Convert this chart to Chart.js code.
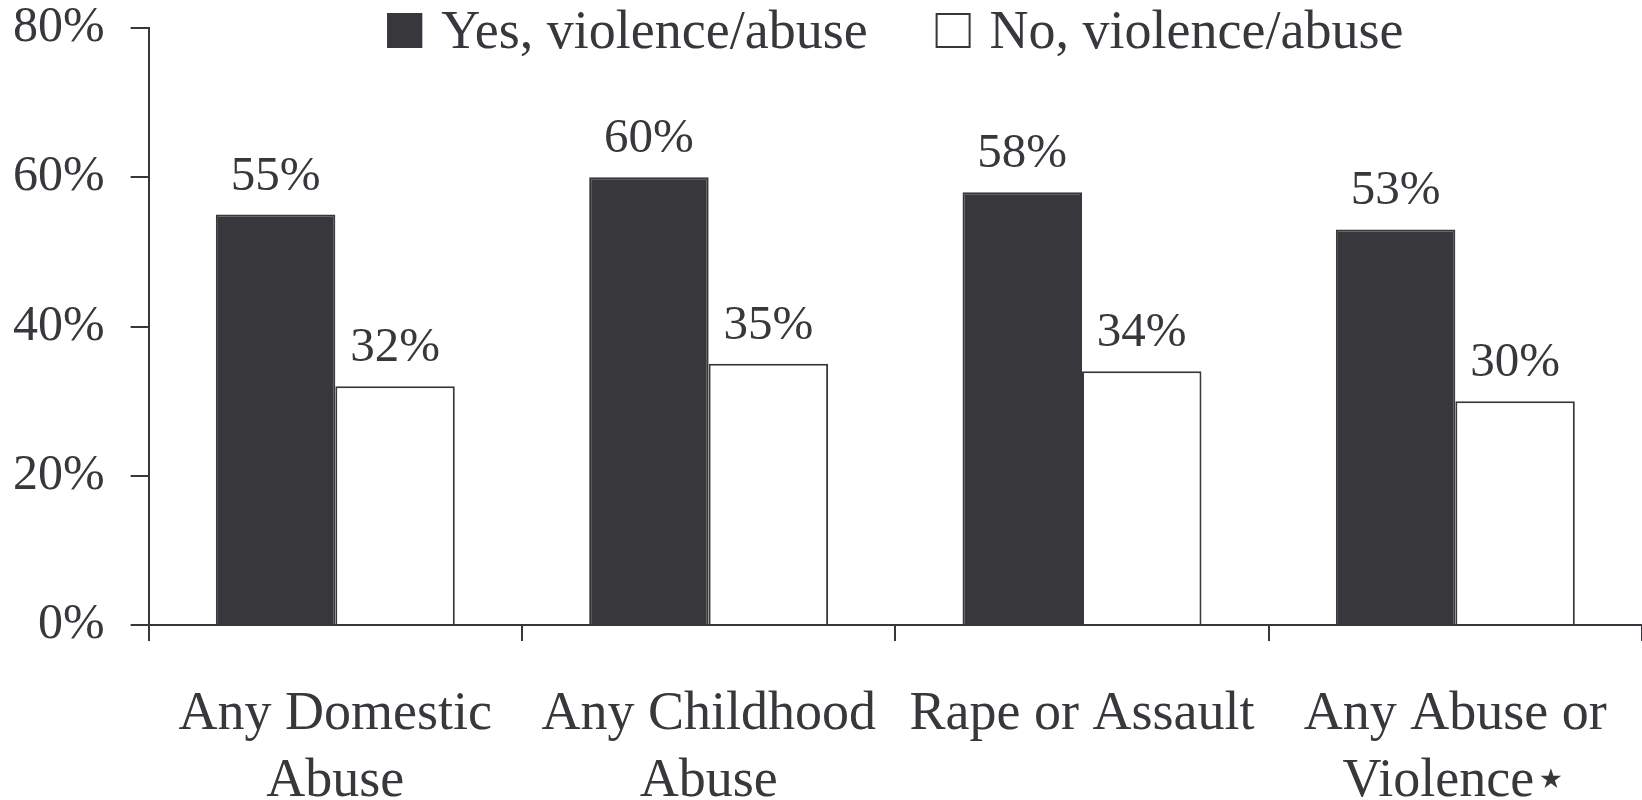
<!DOCTYPE html>
<html>
<head>
<meta charset="utf-8">
<script src="https://cdn.jsdelivr.net/npm/chart.js@4.4.1/dist/chart.umd.min.js"></script>
<style>
  html, body { margin: 0; padding: 0; background: #fff; }
  #wrap { width: 1642px; height: 800px; }
</style>
</head>
<body>
<div id="wrap"><canvas id="chart"></canvas></div>
<script>
const categories = [
  ['Any Domestic', 'Abuse'],
  ['Any Childhood', 'Abuse'],
  ['Rape or Assault'],
  ['Any Abuse or', 'Violence\u22c6']
];
const seriesNames = ['Yes, violence/abuse', 'No, violence/abuse'];
const yesValues = [55, 60, 58, 53];
const noValues = [32, 35, 34, 30];
const yTicks = [0, 20, 40, 60, 80];

const ink = '#38373c';
const serif = '"Liberation Serif", "DejaVu Serif", serif';

// value labels above each bar
const barLabels = {
  id: 'barLabels',
  afterDatasetsDraw(chart) {
    const ctx = chart.ctx;
    ctx.save();
    ctx.font = '49px ' + serif;
    ctx.fillStyle = ink;
    ctx.textAlign = 'center';
    ctx.textBaseline = 'alphabetic';
    chart.data.datasets.forEach((ds, i) => {
      chart.getDatasetMeta(i).data.forEach((bar, j) => {
        ctx.fillText(ds.data[j] + '%', bar.x, bar.y - 25);
      });
    });
    ctx.restore();
  }
};

// legend drawn over the top of the plot, like the original
const topLegend = {
  id: 'topLegend',
  afterDraw(chart) {
    const ctx = chart.ctx;
    const box = 35, gap = 19, spacing = 68;
    ctx.save();
    ctx.font = '54px ' + serif;
    const widths = chart.data.datasets.map(ds => box + gap + ctx.measureText(ds.label).width);
    const total = widths.reduce((a, b) => a + b, 0) + spacing * (widths.length - 1);
    let x = (chart.chartArea.left + chart.chartArea.right) / 2 - total / 2;
    const top = 13;
    chart.data.datasets.forEach((ds, i) => {
      ctx.fillStyle = ds.backgroundColor;
      ctx.fillRect(x, top, box, box);
      ctx.strokeStyle = ink;
      ctx.lineWidth = 2;
      ctx.strokeRect(x + 1, top + 1, box - 2, box - 2);
      ctx.fillStyle = ink;
      ctx.textBaseline = 'alphabetic';
      ctx.textAlign = 'left';
      ctx.fillText(ds.label, x + box + gap, top + 35);
      x += widths[i] + spacing;
    });
    ctx.restore();
  }
};

new Chart(document.getElementById('chart'), {
  type: 'bar',
  data: {
    labels: categories,
    datasets: [
      {
        label: seriesNames[0],
        data: yesValues,
        backgroundColor: ink,
        borderColor: ink,
        borderWidth: 2
      },
      {
        label: seriesNames[1],
        data: noValues,
        backgroundColor: '#ffffff',
        borderColor: ink,
        borderWidth: 2
      }
    ]
  },
  options: {
    responsive: true,
    maintainAspectRatio: false,
    animation: false,
    layout: { padding: { left: -13, right: 0, top: 0, bottom: 0 } },
    datasets: {
      bar: { categoryPercentage: 0.64, barPercentage: 1.0 }
    },
    plugins: {
      legend: { display: false },
      tooltip: { enabled: false }
    },
    scales: {
      x: {
        afterFit(scale) {
          scale.height = 175;
          scale.paddingLeft = 0;
          scale.paddingRight = 0;
        },
        grid: {
          display: true,
          offset: true,
          drawOnChartArea: false,
          drawTicks: true,
          tickLength: 16,
          color: ink,
          lineWidth: 2
        },
        border: { display: true, color: ink, width: 2 },
        ticks: {
          color: ink,
          padding: 40,
          maxRotation: 0,
          autoSkip: false,
          font: { family: serif, size: 54, lineHeight: 1.25 }
        }
      },
      y: {
        min: 0,
        max: 80,
        afterBuildTicks(axis) {
          axis.ticks = yTicks.map(v => ({ value: v }));
        },
        afterFit(scale) {
          scale.paddingTop = 28;
          scale.paddingBottom = 0;
        },
        grid: {
          display: true,
          drawOnChartArea: false,
          drawTicks: true,
          tickLength: 18,
          color: ink,
          lineWidth: 2
        },
        border: { display: true, color: ink, width: 2 },
        ticks: {
          color: ink,
          padding: 26,
          font: { family: serif, size: 50 },
          callback: v => v + '%'
        }
      }
    }
  },
  plugins: [barLabels, topLegend]
});
</script>
</body>
</html>
